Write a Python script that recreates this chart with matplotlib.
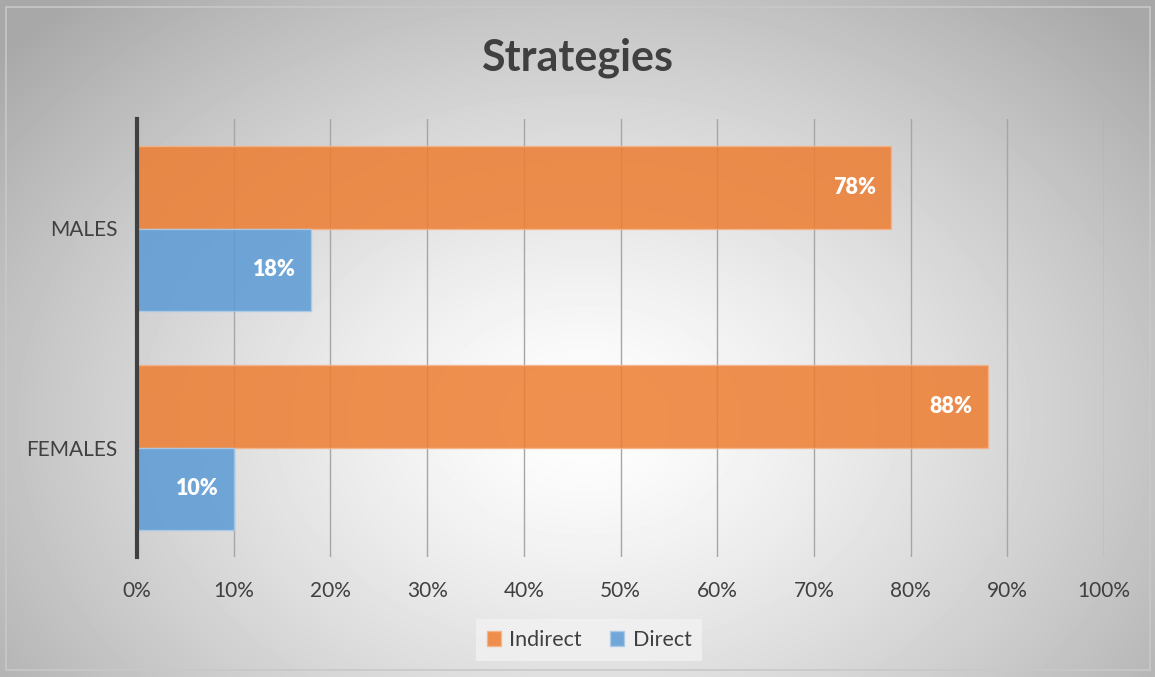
import numpy as np
import matplotlib.pyplot as plt
from matplotlib.patches import Rectangle

categories = ['FEMALES', 'MALES']
indirect = [88, 78]
direct = [10, 18]
ticks = [0, 10, 20, 30, 40, 50, 60, 70, 80, 90, 100]

orange = '#ED7D31'
blue = '#5B9BD5'
dark = '#404040'

plt.rcParams['font.family'] = ['Lato', 'DejaVu Sans']

fig = plt.figure(figsize=(11.55, 6.77), dpi=100)

# radial gradient backdrop
bg = fig.add_axes([0, 0, 1, 1], zorder=-10)
yy, xx = np.mgrid[0:677, 0:1155]
r = np.sqrt(((xx - 585) / 640.0) ** 2 + ((yy - 420) / 470.0) ** 2)
shade = 1.0 - 0.27 * np.clip(r, 0, 1.2) ** 1.3
bg.imshow(shade, cmap='gray', vmin=0, vmax=1, extent=[0, 1, 0, 1],
          aspect='auto', interpolation='bilinear')
bg.add_patch(Rectangle((6 / 1155, 7 / 677), 1144 / 1155, 663 / 677,
                       fill=False, edgecolor='#c8c8c8', lw=1.2,
                       transform=bg.transAxes))
bg.axis('off')

ax = fig.add_axes([137 / 1155, 1 - 557 / 677, (1104 - 137) / 1155, (557 - 119) / 677])
ax.patch.set_alpha(0)

y = np.arange(len(categories))
h = 0.375
b1 = ax.barh(y + h / 2, indirect, height=h, color=orange, alpha=0.85,
             edgecolor='#f5b48a', lw=1, label='Indirect', zorder=3)
b2 = ax.barh(y - h / 2, direct, height=h, color=blue, alpha=0.85,
             edgecolor='#a9cbea', lw=1, label='Direct', zorder=3)

for bars, vals in ((b1, indirect), (b2, direct)):
    for bar, v in zip(bars, vals):
        ax.text(v - 1.6, bar.get_y() + bar.get_height() / 2, '%d%%' % v,
                ha='right', va='center', color='white', fontsize=15.5,
                fontweight='heavy', zorder=4)

ax.set_xlim(0, 100)
ax.set_ylim(-0.5, 1.5)
ax.set_xticks(ticks)
ax.set_xticklabels(['%d%%' % t for t in ticks], fontsize=15, color=dark)
ax.set_yticks(y)
ax.set_yticklabels(categories, fontsize=15, color=dark)
ax.tick_params(length=0, pad=17)
ax.tick_params(axis='y', pad=14)
ax.grid(axis='x', color='#a6a6a6', lw=1, zorder=0)
for s in ('top', 'right', 'bottom'):
    ax.spines[s].set_visible(False)
ax.spines['left'].set_color(dark)
ax.spines['left'].set_linewidth(3)
ax.spines['left'].set_zorder(5)

fig.text(0.5, 1 - 58 / 677, 'Strategies', ha='center', va='center',
         fontsize=31, fontweight='bold', color=dark)

leg = fig.legend(handles=[b1, b2], loc='center', bbox_to_anchor=(0.51, 1 - 640 / 677),
                 ncol=2, frameon=True, fontsize=15.5, handlelength=0.65,
                 handleheight=0.65, handletextpad=0.4, columnspacing=1.3,
                 fancybox=False, borderpad=0.5)
leg.get_frame().set_facecolor('#f2f2f2')
leg.get_frame().set_edgecolor('none')
leg.get_frame().set_alpha(0.8)
for t in leg.get_texts():
    t.set_color(dark)

fig.savefig('out.png', dpi=100)
